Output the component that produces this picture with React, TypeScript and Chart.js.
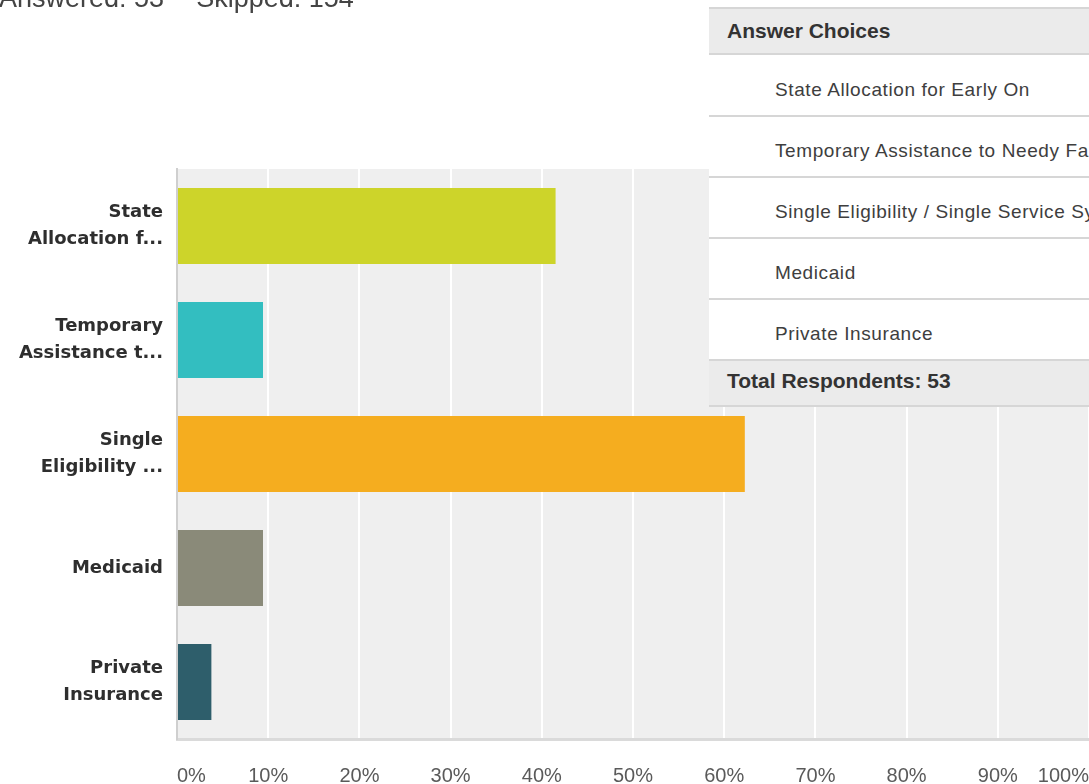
import React, { useEffect, useRef } from 'react';
import { Chart, registerables } from 'chart.js';

Chart.register(...registerables);

// ---- data ----
const categoryLabels: string[][] = [
  ['State', 'Allocation f...'],
  ['Temporary', 'Assistance t...'],
  ['Single', 'Eligibility ...'],
  ['Medicaid'],
  ['Private', 'Insurance'],
];
const percentValues: number[] = [41.51, 9.43, 62.26, 9.43, 3.77];
const barColors: string[] = ['#cdd42a', '#33bec0', '#f5ad1f', '#8a8a79', '#2e5e6b'];
const xTickValues: number[] = [0, 10, 20, 30, 40, 50, 60, 70, 80, 90, 100];
const answerChoices: string[] = [
  'State Allocation for Early On',
  'Temporary Assistance to Needy Families',
  'Single Eligibility / Single Service System',
  'Medicaid',
  'Private Insurance',
];
const answeredCount = 53;
const skippedCount = 154;
const totalRespondents = 53;

const plotBgPlugin = {
  id: 'plotBg',
  beforeDraw(chart: any) {
    const { ctx, chartArea } = chart;
    if (!chartArea) return;
    ctx.save();
    ctx.fillStyle = '#efefef';
    ctx.fillRect(chartArea.left, chartArea.top, chartArea.right - chartArea.left, chartArea.bottom - chartArea.top);
    ctx.restore();
  },
};

function BarChart() {
  const ref = useRef<HTMLCanvasElement | null>(null);
  useEffect(() => {
    if (!ref.current) return;
    const chart = new Chart(ref.current, {
      type: 'bar',
      data: {
        labels: categoryLabels,
        datasets: [
          {
            data: percentValues,
            backgroundColor: barColors,
            borderWidth: 0,
            barPercentage: 0.668,
            categoryPercentage: 1,
          },
        ],
      },
      plugins: [plotBgPlugin],
      options: {
        indexAxis: 'y',
        responsive: false,
        animation: false,
        devicePixelRatio: 1,
        layout: { padding: { top: 169, left: 0, right: 0, bottom: 0 } },
        plugins: {
          legend: { display: false },
          tooltip: { enabled: false },
          title: { display: false },
        },
        scales: {
          x: {
            type: 'linear',
            min: 0,
            max: 100,
            afterBuildTicks: (scale: any) => {
              scale.ticks = xTickValues.map((v) => ({ value: v }));
            },
            afterFit: (scale: any) => {
              scale.height = 45;
              scale.paddingLeft = 0;
              scale.paddingRight = 0;
            },
            grid: {
              color: (ctx: any) => (ctx.index === 0 ? 'rgba(0,0,0,0)' : '#ffffff'),
              lineWidth: 2,
              drawTicks: false,
            },
            border: { display: true, color: '#dadada', width: 3 },
            ticks: {
              align: 'inner',
              padding: 25,
              color: '#5a5a5a',
              font: { family: '"Liberation Sans", Arial, sans-serif', size: 20 },
              callback: (v: any) => v + '%',
              maxRotation: 0,
              autoSkip: false,
            },
          },
          y: {
            type: 'category',
            afterFit: (scale: any) => {
              scale.width = 177;
            },
            grid: { display: false, drawTicks: false },
            border: { display: true, color: '#cfcfcf', width: 2 },
            ticks: {
              padding: 14,
              color: '#2e2e2e',
              font: { family: '"DejaVu Sans", sans-serif', size: 18, weight: 'bold', lineHeight: 1.5 },
            },
          },
        },
      } as any,
    });
    return () => chart.destroy();
  }, []);
  return <canvas ref={ref} width={1089} height={784} style={{ position: 'absolute', left: 0, top: 0 }} />;
}

const lineYs = [7, 53, 115, 176, 237, 298, 359, 405];
const rowTextTops = [80, 141, 202, 263, 324];

function AnswerTable() {
  const rowFont: React.CSSProperties = {
    position: 'absolute',
    left: 66,
    fontFamily: '"Liberation Sans", Arial, sans-serif',
    fontSize: 19,
    lineHeight: '19px',
    letterSpacing: '0.6px',
    color: '#3e3e3e',
    whiteSpace: 'nowrap',
  };
  const boldFont: React.CSSProperties = {
    position: 'absolute',
    left: 18,
    fontFamily: '"Liberation Sans", Arial, sans-serif',
    fontSize: 21,
    fontWeight: 'bold',
    lineHeight: '21px',
    color: '#333333',
    whiteSpace: 'nowrap',
  };
  return (
    <div
      style={{
        position: 'absolute',
        left: 709,
        top: 7,
        width: 380,
        height: 400,
        background: '#ffffff',
        overflow: 'hidden',
      }}
    >
      <div style={{ position: 'absolute', left: 0, top: 0, width: 380, height: 46, background: '#ebebeb' }} />
      <div style={{ position: 'absolute', left: 0, top: 352, width: 380, height: 46, background: '#ebebeb' }} />
      {lineYs.map((y, i) => (
        <div
          key={i}
          style={{ position: 'absolute', left: 0, top: y - 7, width: 380, height: 2, background: '#d6d6d6' }}
        />
      ))}
      <div style={{ ...boldFont, top: 19.5 - 7 }}>Answer Choices</div>
      {answerChoices.map((t, i) => (
        <div key={i} style={{ ...rowFont, top: rowTextTops[i] - 7 }}>
          {t}
        </div>
      ))}
      <div style={{ ...boldFont, top: 370 - 7 }}>Total Respondents: {totalRespondents}</div>
    </div>
  );
}

export default function App() {
  return (
    <div
      style={{
        position: 'fixed',
        left: 0,
        top: 0,
        width: 1089,
        height: 784,
        overflow: 'hidden',
        background: '#ffffff',
      }}
    >
      <BarChart />
      <div
        style={{
          position: 'absolute',
          left: -1,
          top: -15,
          fontFamily: '"Liberation Sans", Arial, sans-serif',
          fontSize: 27,
          lineHeight: '27px',
          color: '#444444',
          whiteSpace: 'nowrap',
        }}
      >
        <span>Answered: {answeredCount}</span>
        <span style={{ marginLeft: 32 }}>Skipped: {skippedCount}</span>
      </div>
      <AnswerTable />
    </div>
  );
}
